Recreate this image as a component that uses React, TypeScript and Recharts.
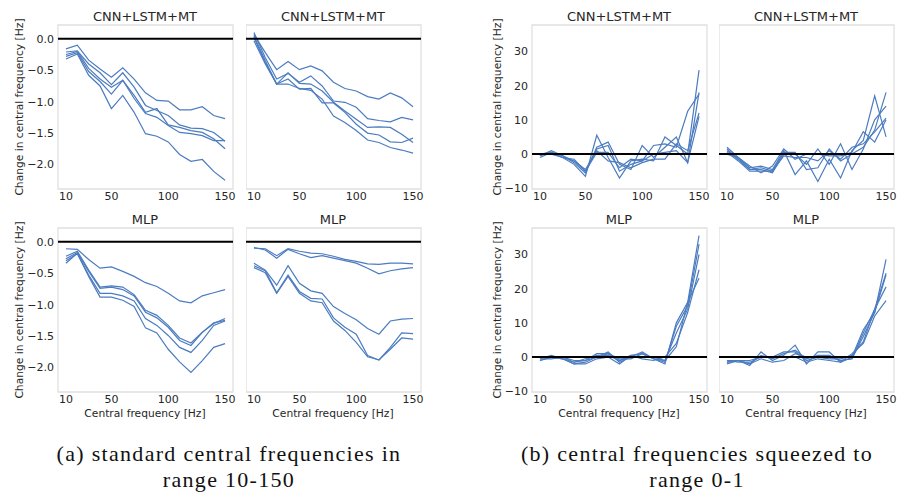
import React from "react";
import { LineChart, Line, XAxis, YAxis, ReferenceLine, ReferenceArea } from "recharts";

const freqs = [10, 20, 30, 40, 50, 60, 70, 80, 90, 100, 110, 120, 130, 140, 150];
const xTicks = [10, 50, 100, 150];
const stdTicks = [0, -0.5, -1, -1.5, -2];
const sqzTicks = [-10, 0, 10, 20, 30];

// (a) standard central frequencies, CNN+LSTM+MT
const stdCnn1 = [
  [-0.16, -0.1, -0.34, -0.48, -0.61, -0.46, -0.64, -0.86, -0.98, -0.99, -1.13, -1.13, -1.08, -1.22, -1.27],
  [-0.21, -0.19, -0.4, -0.54, -0.73, -0.54, -0.77, -1.06, -1.14, -1.22, -1.37, -1.42, -1.43, -1.49, -1.63],
  [-0.25, -0.2, -0.47, -0.64, -0.77, -0.66, -0.9, -1.17, -1.11, -1.37, -1.41, -1.46, -1.49, -1.59, -1.75],
  [-0.28, -0.22, -0.52, -0.68, -0.88, -0.66, -0.95, -1.19, -1.25, -1.38, -1.49, -1.51, -1.54, -1.62, -1.62],
  [-0.32, -0.24, -0.58, -0.75, -1.11, -0.9, -1.17, -1.51, -1.55, -1.64, -1.84, -1.95, -1.92, -2.11, -2.25],
];
const stdCnn2 = [
  [0.07, -0.22, -0.49, -0.36, -0.49, -0.43, -0.51, -0.69, -0.79, -0.83, -0.92, -0.96, -0.86, -0.94, -1.08],
  [0.1, -0.3, -0.64, -0.55, -0.69, -0.59, -0.75, -0.99, -1.01, -1.09, -1.27, -1.3, -1.32, -1.25, -1.29],
  [0.05, -0.35, -0.72, -0.54, -0.71, -0.72, -0.83, -1.01, -1.15, -1.28, -1.41, -1.4, -1.41, -1.52, -1.65],
  [0.02, -0.38, -0.72, -0.72, -0.79, -0.82, -0.96, -1.23, -1.33, -1.46, -1.61, -1.65, -1.73, -1.77, -1.82],
  [-0.03, -0.4, -0.72, -0.64, -0.8, -0.79, -1.02, -1.02, -1.17, -1.36, -1.5, -1.53, -1.64, -1.65, -1.58],
];
// (a) standard central frequencies, MLP
const stdMlp1 = [
  [-0.11, -0.12, -0.28, -0.42, -0.4, -0.47, -0.55, -0.65, -0.71, -0.82, -0.94, -0.97, -0.86, -0.81, -0.76],
  [-0.23, -0.15, -0.45, -0.72, -0.7, -0.72, -0.84, -1.09, -1.17, -1.33, -1.53, -1.61, -1.44, -1.3, -1.22],
  [-0.27, -0.17, -0.47, -0.74, -0.72, -0.76, -0.86, -1.12, -1.21, -1.36, -1.57, -1.65, -1.44, -1.29, -1.25],
  [-0.3, -0.19, -0.53, -0.82, -0.82, -0.86, -0.94, -1.22, -1.33, -1.49, -1.68, -1.76, -1.57, -1.33, -1.26],
  [-0.34, -0.18, -0.55, -0.88, -0.88, -0.93, -1.03, -1.37, -1.45, -1.71, -1.91, -2.08, -1.89, -1.68, -1.62],
];
const stdMlp2 = [
  [-0.1, -0.11, -0.22, -0.11, -0.15, -0.18, -0.19, -0.23, -0.28, -0.31, -0.35, -0.36, -0.34, -0.34, -0.35],
  [-0.09, -0.13, -0.26, -0.12, -0.19, -0.25, -0.22, -0.26, -0.3, -0.34, -0.42, -0.51, -0.46, -0.43, -0.41],
  [-0.34, -0.45, -0.69, -0.38, -0.66, -0.78, -0.82, -1.03, -1.14, -1.24, -1.38, -1.47, -1.26, -1.23, -1.22],
  [-0.38, -0.46, -0.81, -0.53, -0.79, -0.9, -0.91, -1.21, -1.36, -1.47, -1.81, -1.88, -1.68, -1.45, -1.46],
  [-0.41, -0.49, -0.82, -0.55, -0.82, -0.94, -0.97, -1.26, -1.41, -1.6, -1.83, -1.88, -1.71, -1.53, -1.55],
];

// (b) frequencies squeezed to 0-1, CNN+LSTM+MT
const sqzCnn1 = [
  [-1, 0.5, -1, -3, -6.5, 5.5, -1, -7, -2, -1.5, -2, 5, 2.5, 0, 24.5],
  [-0.5, 1, -0.5, -2.5, -5.5, 2, 3.5, -3, -4.5, 2.5, -1, 2, 5, -2.5, 18],
  [0, 0.5, -0.5, -2, -5, 1.5, 2.5, -5, -3, -2, 2.5, 3, 2, 12.5, 17.5],
  [0, 0, -1, -2, -4.5, 1, -2, -2.5, -4, -2.5, -1.5, -1.5, 3, 1, 12],
  [-0.5, 0.5, -1, -1.5, -5, 0.5, 0.5, -4, -1.5, -2, 0, 0.5, 1, -2.5, 11],
];
const sqzCnn2 = [
  [2, -1, -4, -3.5, -4.5, 1, -6, -2, -8, -1.5, -7, 1, 4, 17, 5],
  [1.5, -1.5, -4.5, -4, -5, 0.5, 0.5, -4.5, -4, 1.5, -2, 0, 2, 7, 18],
  [1, -1.5, -4.5, -4.5, -5.5, 0, 0, -3, 1.5, -3, 3, -4.5, 1.5, 10, 14],
  [0.5, -2, -5, -5, -5, -0.5, -1, -1, -2, 1, -1.5, 2, 3, 6.5, 10.5],
  [0, -1, -3.5, -5.5, -3.5, 1.5, -1.5, 0, 0, -0.5, -0.5, 0.5, 6.5, 3.5, 10],
];
// (b) frequencies squeezed to 0-1, MLP
const sqzMlp1 = [
  [-1, 0, -0.5, -2, -1.5, 0, 1.5, -1.5, 0, 1.5, -0.5, -2, 10, 16, 35.5],
  [-0.5, 0.5, -0.5, -1.5, -1, 1, 1, -1, 0.5, 1, -0.5, -1.5, 9, 15, 33],
  [-0.5, -0.5, 0, -1.5, -0.5, 0.5, 0.5, -1, 0, 0, 0, -1, 7, 14, 30],
  [0, 0, -0.5, -2, -2, -0.5, 0, -2, 0.5, -0.5, -1, 0, 4, 13, 25.5],
  [-1, 0, 0, -1, -1, 0, 1, -0.5, -0.5, 1, -0.5, -1, 3, 16, 23],
];
const sqzMlp2 = [
  [-1.5, -1, -2.5, 1.5, -1, 0.5, 3.5, -2, 1.5, 1.5, -1.5, 0, 8, 13, 28.5],
  [-1.5, -1, -2, 0.5, -0.5, 1, 2, -0.5, 0.5, 0.5, -1, -0.5, 7, 14, 24.5],
  [-1, -1.5, -1.5, 0, 0, 1.5, 1.5, -1, 0, 0, -1, -0.5, 6, 13, 24],
  [-1, -1, -2, -0.5, -1.5, -1, 1, 0, 0, -0.5, -0.5, 0.5, 4.5, 14, 20.5],
  [-2, -1, -1, 0, 0, 0, 0, -1.5, -0.5, -1, -1.5, 1, 4, 12, 16.5],
];

const stdDomain: [number, number] = [-2.39, 0.22];
const sqzDomain: [number, number] = [-10.2, 37.7];
const xDomain: [number, number] = [3, 157];

const blue = "#4c7cc0";
const ink = "#262626";
const sans = "DejaVu Sans";
const tickStyle = { fontSize: 11, fill: ink, fontFamily: sans };

const fmtStd = (v: number) => (v === 0 ? "0.0" : "\u2212" + Math.abs(v).toFixed(1));
const fmtSqz = (v: number) => (v < 0 ? "\u2212" + Math.abs(v) : String(v));

function Panel({ x, y, w, h, series, domain, ticks, showY, fmt }: any) {
  const yw = showY ? 48 : 0;
  const data = freqs.map((f, i) => {
    const row: any = { f };
    series.forEach((s: number[], k: number) => (row["s" + k] = s[i]));
    return row;
  });
  return (
    <div style={{ position: "absolute", left: x - yw, top: y - 1 }}>
      <LineChart width={w + yw + 14} height={h + 24} data={data} margin={{ top: 1, right: 13, bottom: 0, left: 0 }}>
        <ReferenceArea x1={xDomain[0]} x2={xDomain[1]} y1={domain[0]} y2={domain[1]} fill="none" stroke="#e0e0e0" strokeWidth={1.3} />
        <XAxis
          type="number"
          dataKey="f"
          domain={xDomain}
          ticks={xTicks}
          axisLine={false}
          tickLine={false}
          tickSize={0}
          tickMargin={3}
          height={23}
          tick={tickStyle}
          interval={0}
          allowDataOverflow
        />
        <YAxis
          type="number"
          domain={domain}
          ticks={ticks}
          hide={!showY}
          width={yw}
          axisLine={false}
          tickLine={false}
          tickSize={0}
          tickMargin={4}
          tick={tickStyle}
          interval={0}
          tickFormatter={fmt}
          allowDataOverflow
        />
        {series.map((_: number[], k: number) => (
          <Line key={k} type="linear" dataKey={"s" + k} stroke={blue} strokeWidth={1.2} dot={false} isAnimationActive={false} />
        ))}
        <ReferenceLine y={0} stroke="#000" strokeWidth={2} />
      </LineChart>
    </div>
  );
}

const W = 174;
const H = 164;
const colX = [58, 246, 532, 719];
const rowY = [25, 228];

function Title({ cx, y, text }: any) {
  return (
    <div style={{ position: "absolute", left: cx - 80, top: y, width: 160, textAlign: "center", fontFamily: sans, fontSize: 13, color: ink, lineHeight: "15px" }}>
      {text}
    </div>
  );
}

function YLabel({ cx, cy }: any) {
  return (
    <div
      style={{
        position: "absolute",
        left: cx - 100,
        top: cy - 7,
        width: 200,
        textAlign: "center",
        fontFamily: sans,
        fontSize: 10.7,
        color: ink,
        lineHeight: "14px",
        transform: "rotate(-90deg)",
        whiteSpace: "nowrap",
      }}
    >
      Change in central frequency [Hz]
    </div>
  );
}

function XLabel({ cx, cy }: any) {
  return (
    <div style={{ position: "absolute", left: cx - 100, top: cy - 6, width: 200, textAlign: "center", fontFamily: sans, fontSize: 10.7, color: ink, lineHeight: "12px" }}>
      Central frequency [Hz]
    </div>
  );
}

function Caption({ cx, lines }: any) {
  return (
    <div
      style={{
        position: "absolute",
        left: cx - 230,
        top: 441,
        width: 460,
        textAlign: "center",
        fontFamily: "Liberation Serif",
        fontSize: 22,
        letterSpacing: 1.3,
        color: "#111",
        lineHeight: "26px",
      }}
    >
      {lines.map((l: string, i: number) => (
        <div key={i}>{l}</div>
      ))}
    </div>
  );
}

export default function App() {
  const panels = [
    { col: 0, row: 0, series: stdCnn1, std: true, title: "CNN+LSTM+MT" },
    { col: 1, row: 0, series: stdCnn2, std: true, title: "CNN+LSTM+MT" },
    { col: 0, row: 1, series: stdMlp1, std: true, title: "MLP" },
    { col: 1, row: 1, series: stdMlp2, std: true, title: "MLP" },
    { col: 2, row: 0, series: sqzCnn1, std: false, title: "CNN+LSTM+MT" },
    { col: 3, row: 0, series: sqzCnn2, std: false, title: "CNN+LSTM+MT" },
    { col: 2, row: 1, series: sqzMlp1, std: false, title: "MLP" },
    { col: 3, row: 1, series: sqzMlp2, std: false, title: "MLP" },
  ];
  return (
    <div style={{ position: "absolute", left: 0, top: 0, width: 897, height: 497, background: "#fff", overflow: "hidden" }}>
      {panels.map((p, i) => {
        const x = colX[p.col];
        const y = rowY[p.row];
        return (
          <React.Fragment key={i}>
            <Panel
              x={x}
              y={y}
              w={W}
              h={H}
              series={p.series}
              domain={p.std ? stdDomain : sqzDomain}
              ticks={p.std ? stdTicks : sqzTicks}
              showY={p.col === 0 || p.col === 2}
              fmt={p.std ? fmtStd : fmtSqz}
            />
            <Title cx={x + W / 2} y={y - 16} text={p.title} />
            {(p.col === 0 || p.col === 2) && <YLabel cx={p.col === 0 ? 20 : 498} cy={y + H / 2} />}
            {p.row === 1 && <XLabel cx={x + W / 2} cy={414} />}
          </React.Fragment>
        );
      })}
      <Caption cx={229} lines={["(a) standard central frequencies in", "range 10-150"]} />
      <Caption cx={697} lines={["(b) central frequencies squeezed to", "range 0-1"]} />
    </div>
  );
}
